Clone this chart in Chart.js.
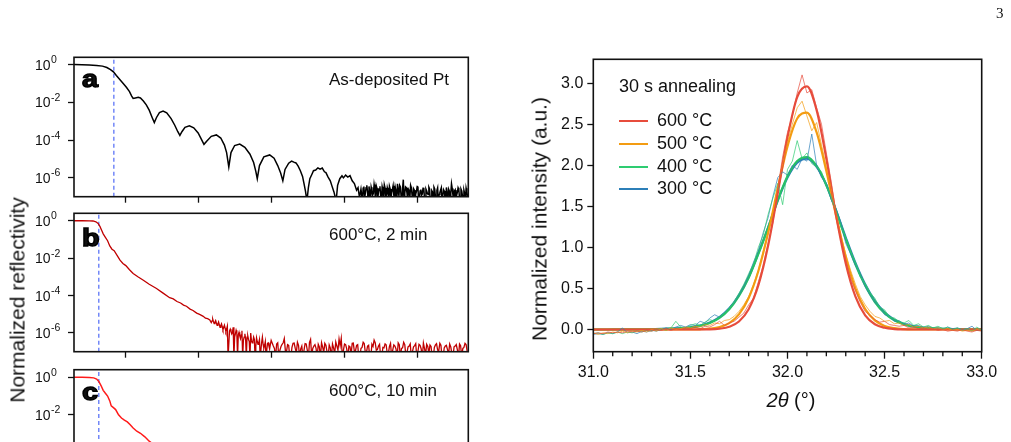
<!DOCTYPE html>
<html><head><meta charset="utf-8">
<script src="https://cdn.jsdelivr.net/npm/chart.js@4.4.1/dist/chart.umd.min.js"></script>
<style>
html,body{margin:0;padding:0;background:#fff;}
#wrap{position:relative;width:1011px;height:442px;overflow:hidden;background:#fff;font-family:"Liberation Sans",Arial,sans-serif;color:#111;}
canvas{position:absolute;left:0;top:0;}
.t{position:absolute;white-space:nowrap;line-height:1;}
.lab{position:absolute;font-family:"Liberation Sans",Arial,sans-serif;font-weight:900;font-size:23px;line-height:1;-webkit-text-stroke:1.3px #000;transform:scaleX(1.25);transform-origin:left top;}
.sw{position:absolute;width:29px;height:2px;}
</style></head><body>
<div id="wrap">
<canvas id="ca" width="1011" height="442" style="width:1011px;height:442px"></canvas>
<canvas id="cb" width="1011" height="442" style="width:1011px;height:442px"></canvas>
<canvas id="cc" width="1011" height="560" style="width:1011px;height:560px"></canvas>
<canvas id="cx" width="1011" height="442" style="width:1011px;height:442px"></canvas>

<div class="t" style="left:996px;top:6px;font-family:'Liberation Serif',serif;font-size:15px;">3</div>
<div class="t" style="left:17px;top:300px;font-size:21px;transform:translate(-50%,-50%) rotate(-90deg);">Normalized reflectivity</div>
<div class="t" style="left:538.5px;top:219px;font-size:21px;transform:translate(-50%,-50%) rotate(-90deg);">Normalized intensity (a.u.)</div>

<div class="lab" style="left:82px;top:68px;">a</div>
<div class="lab" style="left:82px;top:227px;">b</div>
<div class="lab" style="left:82px;top:381px;">c</div>

<div class="t" style="left:329px;top:71px;font-size:17px;">As-deposited Pt</div>
<div class="t" style="left:329px;top:226px;font-size:17px;">600°C, 2 min</div>
<div class="t" style="left:329px;top:382px;font-size:17px;">600°C, 10 min</div>

<div class="t" style="left:619px;top:76.5px;font-size:18px;">30 s annealing</div>
<div class="sw" style="left:619px;top:120px;background:#e74c3c"></div>
<div class="sw" style="left:619px;top:142.5px;background:#f39c12"></div>
<div class="sw" style="left:619px;top:165.5px;background:#2ecc71"></div>
<div class="sw" style="left:619px;top:188px;background:#2c7fb8"></div>
<div class="t" style="left:657px;top:111px;font-size:18px;">600 °C</div>
<div class="t" style="left:657px;top:133.5px;font-size:18px;">500 °C</div>
<div class="t" style="left:657px;top:156.5px;font-size:18px;">400 °C</div>
<div class="t" style="left:657px;top:179px;font-size:18px;">300 °C</div>

<div class="t" style="left:791px;top:390px;font-size:20px;transform:translateX(-50%);"><i>2θ</i> (°)</div>
</div>
<script>
// ---------- XRR (left panels) ----------
const xrrXTicks = [1, 2, 3, 4, 5];
const xrrYExps = [0, -2, -4, -6];
const xrrRange = [1e-7, 2.5];

const xA = [0.29,0.40,0.50,0.60,0.68,0.74,0.79,0.83,0.87,0.92,0.97,1.01,1.05,1.08,1.10,1.13,1.17,1.20,1.24,1.28,1.32,1.36,1.39,1.42,1.46,1.51,1.56,1.62,1.67,1.71,1.74,1.77,1.81,1.87,1.93,1.99,2.03,2.07,2.11,2.17,2.24,2.30,2.35,2.38,2.41,2.44,2.49,2.56,2.63,2.70,2.75,2.78,2.80,2.83,2.89,2.97,3.03,3.08,3.12,3.15,3.18,3.23,3.27,3.30,3.33,3.36,3.39,3.42,3.44,3.46,3.48,3.50,3.52,3.55,3.57,3.60,3.63,3.66,3.69,3.72,3.74,3.77,3.80,3.82,3.85,3.88,3.90,3.93,3.96,3.98,4.01,4.04,4.07,4.10,4.13,4.16,4.18,4.20,
4.22,4.24,4.26,4.28,4.30,4.32,4.34,4.36,4.38,4.40,4.42,4.44,4.46,4.48,4.50,4.52,4.54,4.56,4.58,4.60,4.62,4.64,4.66,4.68,4.70,4.72,4.74,4.76,4.78,4.80,4.82,4.84,4.86,4.88,4.90,4.92,4.94,4.96,4.98,5.00,5.02,5.04,5.06,5.08,5.10,5.12,5.14,5.16,5.18,5.20,5.22,5.24,5.26,5.28,5.30,5.32,5.34,5.36,5.38,5.40,5.42,5.44,5.46,5.48,5.50,5.52,5.54,5.56,5.58,5.60,5.62,5.64,5.66,5.68];
const yA = [1.05,1.02,0.98,0.93,0.85,0.72,0.56,0.42,0.27,0.16,0.095,0.062,0.038,0.022,0.0165,0.0175,0.0188,0.0175,0.012,0.0075,0.0039,0.0016,0.00085,0.0016,0.0029,0.0035,0.0028,0.0014,0.00062,0.00029,0.00018,0.00029,0.00048,0.00058,0.00045,0.00024,0.00012,0.00006,0.00009,0.00016,0.00019,0.00013,5.5e-5,2.2e-5,3.8e-6,2.2e-5,5.2e-5,6.2e-5,4.2e-5,1.8e-5,6.5e-6,2.2e-6,9e-7,4.5e-6,1.3e-5,1.65e-5,1.1e-5,4.5e-6,1.8e-6,7e-7,2.8e-6,6.0e-6,7.8e-6,6.8e-6,6.2e-6,4.2e-6,2.4e-6,1.2e-6,5e-7,2e-7,6e-8,3e-7,9e-7,1.6e-6,2.4e-6,2.6e-6,3.4e-6,2.9e-6,3.3e-6,2.1e-6,1.9e-6,1.1e-6,7e-7,4e-7,1.8e-7,6e-8,4e-7,9e-7,1.3e-6,1.0e-6,1.4e-6,1.1e-6,1.3e-6,7e-7,5e-7,2.2e-7,3e-7,9e-8,
2.5e-7,6e-8,3.5e-7,1.5e-7,4.0e-7,5e-8,2.0e-7,3.2e-7,1.2e-7,4.5e-7,5e-8,2.8e-7,1.8e-7,3.6e-7,7e-8,2.2e-7,4.2e-7,1.0e-7,3.0e-7,5e-8,2.6e-7,1.6e-7,3.8e-7,6e-8,2.0e-7,4.8e-7,1.1e-7,3.3e-7,5e-8,8.0e-7,1.5e-7,3.0e-7,6e-8,2.1e-7,4.0e-7,1.2e-7,2.7e-7,5e-8,1.9e-7,3.4e-7,9e-8,2.4e-7,1.4e-7,3.0e-7,5e-8,2.0e-7,1.3e-7,2.6e-7,6e-8,1.8e-7,3.2e-7,1.0e-7,2.2e-7,5e-8,1.6e-7,2.9e-7,1.1e-7,2.0e-7,5e-8,1.5e-7,2.5e-7,8e-8,4.8e-7,1.2e-7,2.0e-7,5e-8,1.7e-7,2.4e-7,9e-8,2.0e-7,5e-8,1.5e-7,2.8e-7,1.0e-7];
// extra tail readings of panel a (between the points above)
const xA2 = [4.23,4.25,4.27,4.29,4.31,4.33,4.35,4.37,4.39,4.41,4.43,4.45,4.47,4.49,4.51,4.53,4.55,4.57,4.59,4.61,4.63,4.65,4.67,4.69,4.71,4.73,4.75,4.77,4.79,4.81,4.83,4.85,4.87,4.89,4.91,4.93,4.95,4.97,4.99,5.01,5.03,5.05,5.07,5.09,5.11,5.13,5.15,5.17,5.19,5.21,5.23,5.25,5.27,5.29,5.31,5.33,5.35,5.37,5.39,5.41,5.43,5.45,5.47,5.49,5.51,5.53,5.55,5.57,5.59,5.61,5.63,5.65,5.67];
const yA2 = [1.2e-7,2.8e-7,9e-8,3.0e-7,1.8e-7,3.5e-7,5e-8,2.2e-7,1.5e-7,2.5e-7,3.8e-7,8e-8,2.6e-7,1.1e-7,3.4e-7,5e-8,2.9e-7,1.3e-7,2.0e-7,3.6e-7,7e-8,2.4e-7,1.2e-7,3.1e-7,5e-8,2.2e-7,4.0e-7,1.0e-7,2.7e-7,5e-8,3.3e-7,1.6e-7,2.5e-7,9e-8,3.0e-7,6e-8,2.3e-7,1.4e-7,3.5e-7,5e-8,2.0e-7,1.2e-7,2.8e-7,8e-8,2.5e-7,1.5e-7,3.2e-7,5e-8,2.1e-7,1.1e-7,2.6e-7,7e-8,3.0e-7,1.3e-7,2.2e-7,5e-8,2.4e-7,1.0e-7,3.1e-7,6e-8,2.0e-7,1.5e-7,2.7e-7,5e-8,2.3e-7,1.2e-7,3.0e-7,8e-8,2.5e-7,1.1e-7,2.2e-7,5e-8,1.8e-7];

const xB = [0.29,0.40,0.50,0.55,0.59,0.62,0.645,0.67,0.69,0.72,0.75,0.78,0.81,0.84,0.88,0.92,0.96,1.00,1.05,1.10,1.17,1.24,1.32,1.42,1.51,1.60,1.65,1.70,1.75,1.79,1.83,1.88,1.92,1.97,2.01,2.06,2.09,2.12,
2.15,2.17,2.19,2.21,2.23,2.25,2.27,2.29,2.31,2.33,2.35,2.37,2.39,2.41,2.43,2.45,2.47,2.49,2.51,2.53,2.55,2.57,2.59,2.61,2.63,2.65,2.67,2.69,2.71,2.73,2.75,2.77,2.79,2.81,2.83,2.85,2.87,2.89,2.91,2.93,2.95,2.97,2.99,
3.02,3.05,3.08,3.11,3.14,3.17,3.20,3.23,3.26,3.29,3.32,3.35,3.38,3.41,3.44,3.47,3.50,3.53,3.56,3.59,3.62,3.65,3.68,3.71,3.74,3.77,3.80,3.83,3.86,3.89,3.92,3.95,3.98,4.01,4.04,4.07,4.10,4.13,4.16,4.19,4.22,4.25,4.28,4.31,4.34,4.37,4.40,4.43,4.46,4.49,4.52,4.55,4.58,4.61,4.64,4.67,4.70,4.73,4.76,4.79,4.82,4.85,4.88,4.91,4.94,4.97,5.00,5.03,5.06,5.09,5.12,5.15,5.18,5.21,5.24,5.27,5.30,5.33,5.36,5.39,5.42,5.45,5.48,5.51,5.54,5.57,5.60,5.63,5.66,5.69];
const yB = [1.0,1.0,0.99,0.97,0.88,0.72,0.50,0.30,0.20,0.13,0.085,0.045,0.030,0.025,0.014,0.0078,0.0052,0.0040,0.0024,0.0015,0.00098,0.00066,0.00040,0.00024,0.000135,7.7e-5,6.6e-5,4.8e-5,4.0e-5,3.1e-5,2.7e-5,1.9e-5,1.6e-5,1.15e-5,9.8e-6,7.8e-6,6.2e-6,5.8e-6,
5.0e-6,3.6e-6,5.5e-6,3.2e-6,4.6e-6,2.6e-6,3.9e-6,2.0e-6,3.1e-6,1.5e-6,2.6e-6,1.2e-6,2.3e-6,5e-8,1.6e-6,9e-7,2.0e-6,6e-7,1.4e-6,5e-8,1.1e-6,5e-7,1.3e-6,4e-7,9e-7,5e-8,7e-7,3.5e-7,1.0e-6,3e-7,6e-7,5e-8,5.5e-7,2.5e-7,4.5e-7,5e-8,6e-7,1.5e-7,3.5e-7,5e-8,3e-7,1.5e-7,4e-7,
2.0e-7,5e-8,3.0e-7,1.2e-7,2.5e-7,5.0e-7,1.0e-7,2.2e-7,5e-8,2.8e-7,1.5e-7,3.2e-7,5e-8,2.0e-7,1.2e-7,2.6e-7,5e-8,4.5e-7,1.5e-7,2.4e-7,5e-8,1.8e-7,3.0e-7,9e-8,2.2e-7,5e-8,1.6e-7,2.6e-7,8e-8,2.0e-7,4.8e-7,5.2e-7,1.2e-7,2.4e-7,5e-8,1.8e-7,2.8e-7,1.0e-7,2.2e-7,5e-8,1.5e-7,3.2e-7,9e-8,2.0e-7,5e-8,2.5e-7,4.2e-7,1.2e-7,2.0e-7,5e-8,1.7e-7,2.6e-7,8e-8,1.9e-7,5e-8,2.3e-7,1.4e-7,3.0e-7,5e-8,1.6e-7,2.4e-7,9e-8,2.0e-7,5e-8,1.8e-7,2.7e-7,1.0e-7,2.2e-7,5e-8,1.5e-7,2.5e-7,8e-8,1.9e-7,5e-8,2.3e-7,1.2e-7,2.8e-7,5e-8,1.6e-7,2.2e-7,8e-8,1.8e-7,5e-8,2.0e-7,1.3e-7,2.6e-7,5e-8,1.7e-7,2.4e-7,1.0e-7];
// extra noisy readings of panel b (between the points above)
const xB2 = [2.16,2.18,2.20,2.22,2.24,2.26,2.28,2.30,2.32,2.34,2.36,2.38,2.40,2.42,2.44,2.46,2.48,2.50,2.52,2.54,2.56,2.58,2.60,2.62,2.64,2.66,2.68,2.70,2.72,2.74,2.76,2.78,2.80,2.82,2.84,2.86,2.88,2.90,2.92,2.94,2.96,2.98,
3.035,3.065,3.095,3.125,3.155,3.185,3.215,3.245,3.275,3.305,3.335,3.365,3.395,3.425,3.455,3.485,3.515,3.545,3.575,3.605,3.635,3.665,3.695,3.725,3.755,3.785,3.815,3.845,3.875,3.905,3.935,3.965,3.995,4.025,4.055,4.085,4.115,4.145,4.175,4.205,4.235,4.265,4.295,4.325,4.355,4.385,4.415,4.445,4.475,4.505,4.535,4.565,4.595,4.625,4.655,4.685,4.715,4.745,4.775,4.805,4.835,4.865,4.895,4.925,4.955,4.985,5.015,5.045,5.075,5.105,5.135,5.165,5.195,5.225,5.255,5.285,5.315,5.345,5.375,5.405,5.435,5.465,5.495,5.525,5.555,5.585,5.615,5.645,5.675];
const yB2 = [4.2e-6,4.4e-6,4.0e-6,3.8e-6,3.4e-6,3.0e-6,2.8e-6,2.5e-6,2.2e-6,1.9e-6,1.8e-6,1.6e-6,5e-8,1.3e-6,1.2e-6,1.1e-6,5e-8,9e-7,1.0e-6,8e-7,7e-7,8e-7,5e-8,6e-7,5e-7,6e-7,4.5e-7,5e-8,4e-7,3.5e-7,4.5e-7,2e-7,3.5e-7,3e-7,5e-8,3.2e-7,2.5e-7,2.2e-7,5e-8,2.8e-7,2.0e-7,2.5e-7,
1.5e-7,2.6e-7,5e-8,1.9e-7,3.0e-7,1.1e-7,2.4e-7,5e-8,1.7e-7,2.9e-7,9e-8,2.2e-7,1.4e-7,5e-8,2.7e-7,1.2e-7,3.1e-7,6e-8,2.0e-7,1.5e-7,2.5e-7,5e-8,1.8e-7,2.8e-7,1.0e-7,2.3e-7,5e-8,1.6e-7,3.3e-7,1.2e-7,2.1e-7,5e-8,2.6e-7,1.4e-7,2.0e-7,7e-8,2.9e-7,1.1e-7,2.4e-7,5e-8,1.7e-7,2.7e-7,9e-8,2.2e-7,5e-8,1.9e-7,3.0e-7,1.3e-7,2.5e-7,5e-8,1.6e-7,2.3e-7,8e-8,2.8e-7,1.2e-7,2.0e-7,5e-8,2.4e-7,1.5e-7,3.2e-7,6e-8,1.8e-7,2.6e-7,1.0e-7,2.1e-7,5e-8,2.5e-7,1.4e-7,2.9e-7,7e-8,1.9e-7,2.3e-7,5e-8,1.7e-7,2.7e-7,1.1e-7,2.2e-7,5e-8,2.0e-7,1.3e-7,2.6e-7,8e-8,1.8e-7,2.4e-7,5e-8,2.1e-7,1.5e-7,2.8e-7,1.0e-7];

const xC = [0.29,0.40,0.50,0.56,0.60,0.63,0.66,0.69,0.72,0.75,0.78,0.80,0.83,0.86,0.90,0.94,0.98,1.02,1.06,1.10,1.15,1.20,1.26,1.32,1.38,1.45,1.55,1.70,1.90,2.10,2.40];
const yC = [1.0,1.0,0.97,0.92,0.80,0.60,0.36,0.20,0.14,0.10,0.055,0.030,0.024,0.019,0.010,0.0068,0.0052,0.0042,0.0030,0.0020,0.00135,0.00105,0.00068,0.00040,0.00026,0.00017,8.5e-5,4.0e-5,1.7e-5,7.5e-6,3.0e-6];

const critA = 0.836, critB = 0.63, critC = 0.63;

// ---------- XRD (right panel) ----------
const tth = [31.000,31.025,31.050,31.075,31.100,31.125,31.150,31.175,31.200,31.225,31.250,31.275,31.300,31.325,31.350,31.375,31.400,31.425,31.450,31.475,31.500,31.525,31.550,31.575,31.600,31.625,31.650,31.675,31.700,31.725,31.750,31.775,31.800,31.825,31.850,31.875,31.900,31.925,31.950,31.975,32.000,32.025,32.050,32.075,32.100,32.125,32.150,32.175,32.200,32.225,32.250,32.275,32.300,32.325,32.350,32.375,32.400,32.425,32.450,32.475,32.500,32.525,32.550,32.575,32.600,32.625,32.650,32.675,32.700,32.725,32.750,32.775,32.800,32.825,32.850,32.875,32.900,32.925,32.950,32.975,33.000];
const raw600 = [-0.05,-0.04,-0.05,-0.03,-0.04,-0.03,-0.04,-0.02,-0.03,-0.02,-0.03,-0.01,-0.02,0.00,-0.01,0.01,-0.01,0.01,0.00,0.02,0.01,0.03,0.01,0.04,0.03,0.06,0.10,0.05,0.08,0.10,0.15,0.20,0.30,0.38,0.58,0.78,1.05,1.30,1.72,2.10,2.40,2.60,2.88,3.10,2.88,2.92,2.70,2.50,2.15,1.80,1.42,1.12,0.85,0.62,0.47,0.33,0.22,0.17,0.12,0.09,0.10,0.06,0.05,0.04,0.05,0.02,0.03,0.01,0.02,0.00,0.01,-0.01,0.00,-0.02,-0.01,-0.02,0.00,-0.02,-0.03,-0.01,-0.02];
const raw500 = [-0.04,-0.06,-0.04,-0.05,-0.03,-0.04,-0.02,-0.04,-0.02,-0.03,-0.01,-0.03,0.00,-0.02,0.01,-0.01,0.02,0.00,0.01,0.03,0.02,0.04,0.03,0.06,0.05,0.08,0.07,0.11,0.12,0.16,0.22,0.30,0.40,0.55,0.72,0.95,1.18,1.42,1.75,2.02,2.28,2.50,2.70,2.78,2.60,2.42,2.52,2.25,1.98,1.72,1.42,1.15,0.92,0.72,0.55,0.40,0.30,0.22,0.16,0.14,0.10,0.11,0.07,0.08,0.05,0.06,0.03,0.04,0.02,0.03,0.01,0.02,0.00,0.01,-0.01,0.00,-0.02,-0.01,-0.02,0.00,-0.01];
const raw400 = [-0.05,-0.04,-0.06,-0.04,-0.05,-0.03,-0.05,-0.03,-0.04,-0.02,-0.03,-0.01,-0.02,0.00,0.01,-0.01,0.02,0.10,0.03,0.02,0.05,0.07,0.05,0.09,0.12,0.10,0.16,0.20,0.26,0.34,0.44,0.55,0.68,0.80,1.00,1.15,1.40,1.60,1.78,1.52,1.95,2.05,2.30,2.08,2.15,2.02,1.98,1.92,1.75,1.62,1.45,1.25,1.12,0.95,0.82,0.64,0.56,0.45,0.38,0.27,0.24,0.15,0.14,0.10,0.08,0.11,0.05,0.07,0.03,0.05,0.02,0.04,0.01,0.03,0.00,0.02,-0.01,0.01,-0.02,0.03,-0.01];
const raw300 = [-0.06,-0.05,-0.06,-0.04,-0.05,-0.03,0.02,-0.04,-0.03,-0.05,-0.02,-0.03,-0.01,-0.02,0.00,0.02,0.00,0.03,0.05,0.03,0.06,0.05,0.10,0.08,0.14,0.18,0.15,0.21,0.27,0.33,0.42,0.52,0.66,0.82,0.96,1.18,1.36,1.62,1.85,1.92,1.88,2.00,1.95,2.08,2.05,2.38,2.00,1.85,1.78,1.58,1.47,1.30,1.05,0.92,0.78,0.66,0.52,0.42,0.33,0.28,0.18,0.16,0.10,0.11,0.06,0.08,0.04,0.05,0.02,0.04,0.01,0.02,0.00,0.03,0.01,0.02,0.00,0.01,0.04,-0.01,0.00];

const tthFit = [31.00,31.05,31.10,31.15,31.20,31.25,31.30,31.35,31.40,31.45,31.50,31.55,31.60,31.65,31.70,31.75,31.80,31.85,31.90,31.95,32.00,32.05,32.10,32.15,32.20,32.25,32.30,32.35,32.40,32.45,32.50,32.55,32.60,32.65,32.70,32.75,32.80,32.85,32.90,32.95,33.00];
const fit600 = [0,0,0,0,0,0,0,0,0,0,0,0.001,0.002,0.010,0.033,0.097,0.247,0.54,1.02,1.66,2.34,2.83,2.96,2.67,2.08,1.39,0.805,0.40,0.173,0.064,0.021,0.006,0.001,0,0,0,0,0,0,0,0];
const fit500 = [0,0,0,0,0,0,0,0,0,0,0.001,0.003,0.010,0.029,0.078,0.184,0.384,0.713,1.174,1.719,2.23,2.57,2.64,2.40,1.93,1.386,0.883,0.499,0.250,0.112,0.044,0.016,0.005,0.001,0,0,0,0,0,0,0];
const fit400 = [0,0,0.001,0.001,0.002,0.003,0.004,0.006,0.010,0.015,0.025,0.044,0.079,0.142,0.247,0.41,0.63,0.92,1.239,1.577,1.865,2.052,2.10,1.992,1.76,1.445,1.10,0.79,0.535,0.335,0.20,0.113,0.063,0.035,0.021,0.014,0.008,0.006,0.004,0.003,0.002];
const fit300 = [0,0,0.001,0.001,0.002,0.003,0.005,0.007,0.011,0.017,0.028,0.048,0.085,0.150,0.255,0.42,0.64,0.93,1.24,1.57,1.85,2.03,2.08,1.98,1.76,1.45,1.12,0.81,0.55,0.35,0.21,0.12,0.068,0.038,0.023,0.015,0.009,0.006,0.004,0.003,0.002];

const xrdXTicks = [31.0, 31.5, 32.0, 32.5, 33.0];
const xrdXMinor = [31.1,31.2,31.3,31.4,31.6,31.7,31.8,31.9,32.1,32.2,32.3,32.4,32.6,32.7,32.8,32.9];
const xrdYTicks = [0.0, 0.5, 1.0, 1.5, 2.0, 2.5, 3.0];

const colors = {c600:'#e74c3c', c500:'#f39c12', c400:'#2ecc71', c300:'#2c7fb8'};

// ---------- plugins ----------
const frame = {
  id:'frame',
  afterDatasetsDraw(chart){
    const {ctx, chartArea:a} = chart;
    ctx.save(); ctx.strokeStyle='#111'; ctx.lineWidth=1.6;
    ctx.strokeRect(a.left, a.top, a.right-a.left, a.bottom-a.top);
    ctx.restore();
  }
};
const logLabels = {
  id:'logLabels',
  afterDraw(chart){
    const y = chart.scales.y, ctx = chart.ctx;
    ctx.save(); ctx.fillStyle='#111'; ctx.textAlign='left'; ctx.textBaseline='alphabetic';
    for (const e of xrrYExps){
      const py = y.getPixelForValue(Math.pow(10,e));
      ctx.font='14px "Liberation Sans", Arial, sans-serif';
      ctx.fillText('10', 35, py+5);
      const w = ctx.measureText('10').width;
      ctx.font='10.5px "Liberation Sans", Arial, sans-serif';
      ctx.fillText(e===0 ? '0' : '-'+(-e), 35+w+0.5, py-1.5);
    }
    ctx.restore();
  }
};
const minorTicks = {
  id:'minorTicks',
  afterDraw(chart){
    const x = chart.scales.x, ctx = chart.ctx, b = chart.chartArea.bottom;
    ctx.save(); ctx.strokeStyle='#111'; ctx.lineWidth=1.3; ctx.beginPath();
    for (const v of xrdXMinor){ const px = x.getPixelForValue(v); ctx.moveTo(px,b); ctx.lineTo(px,b+4.5); }
    ctx.stroke(); ctx.restore();
  }
};

const gridOpts = {drawOnChartArea:false, drawTicks:true, tickLength:6, tickColor:'#111', tickWidth:1.3};

function pts(xs, ys){ return xs.map((x,i)=>({x, y:ys[i]})); }
function merged(xs, ys, xs2, ys2){ return pts(xs,ys).concat(pts(xs2,ys2)).sort((p,q)=>p.x-q.x); }

function xrrChart(id, data, color, lw, crit, padTop, padBottom){
  return new Chart(document.getElementById(id), {
    type:'line',
    data:{datasets:[
      {data: data, borderColor:color, borderWidth:lw, pointRadius:0, tension:0, fill:false},
      {data:[{x:crit,y:xrrRange[0]},{x:crit,y:xrrRange[1]}], borderColor:'#3f5cf5', borderWidth:1.1, borderDash:[4,3], pointRadius:0, fill:false}
    ]},
    options:{
      responsive:false, animation:false, devicePixelRatio:1,
      layout:{padding:{left:10, top:padTop, right:1011-468.3, bottom:padBottom}},
      plugins:{legend:{display:false}, tooltip:{enabled:false}},
      scales:{
        x:{type:'linear', min:0.29, max:5.69,
           afterBuildTicks(s){ s.ticks = xrrXTicks.map(v=>({value:v})); },
           afterFit(s){ s.height = 8; },
           ticks:{display:false}, grid:gridOpts, border:{display:false}},
        y:{type:'logarithmic', min:xrrRange[0], max:xrrRange[1],
           afterBuildTicks(s){ s.ticks = xrrYExps.map(e=>({value:Math.pow(10,e)})); },
           afterFit(s){ s.width = 64; },
           ticks:{display:false}, grid:gridOpts, border:{display:false}}
      }
    },
    plugins:[frame, logLabels]
  });
}

xrrChart('ca', merged(xA, yA, xA2, yA2), '#000000', 1.5, critA, 57.3, 442-196.7-8);
xrrChart('cb', merged(xB, yB, xB2, yB2), '#c00000', 1.3, critB, 213.3, 442-351.7-8);
xrrChart('cc', pts(xC, yC), '#ff1a1a', 1.5, critC, 369.7, 560-509-8);

function rawSet(vals, col){
  return {data: pts(tth, vals), borderColor:col+'b3', borderWidth:1, pointRadius:0, tension:0, fill:false};
}
function fitSet(vals, col){
  return {data: pts(tthFit, vals), borderColor:col, borderWidth:2.2, pointRadius:0, cubicInterpolationMode:'monotone', fill:false};
}
const tickFont = {family:'"Liberation Sans", Arial, sans-serif', size:16};
// Chart.js paints the first dataset last (on top): thin measured data over the fits
new Chart(document.getElementById('cx'), {
  type:'line',
  data:{datasets:[
    rawSet(raw600, colors.c600), rawSet(raw500, colors.c500), rawSet(raw400, colors.c400), rawSet(raw300, colors.c300),
    fitSet(fit600, colors.c600), fitSet(fit500, colors.c500), fitSet(fit400, '#27c065'), fitSet(fit300, colors.c300)
  ]},
  options:{
    responsive:false, animation:false, devicePixelRatio:1,
    layout:{padding:{left:525.5, top:59.3, right:1011-981.7, bottom:442-351.7-40}},
    plugins:{legend:{display:false}, tooltip:{enabled:false}},
    scales:{
      x:{type:'linear', min:31, max:33,
         afterBuildTicks(s){ s.ticks = xrdXTicks.map(v=>({value:v})); },
         afterFit(s){ s.height = 40; },
         ticks:{font:tickFont, color:'#111', padding:4, maxRotation:0, autoSkip:false, callback:v=>Number(v).toFixed(1)},
         grid:{drawOnChartArea:false, drawTicks:true, tickLength:7, tickColor:'#111', tickWidth:1.3}, border:{display:false}},
      y:{type:'linear', min:-0.27, max:3.29,
         afterBuildTicks(s){ s.ticks = xrdYTicks.map(v=>({value:v})); },
         afterFit(s){ s.width = 593.3-525.5; },
         ticks:{font:tickFont, color:'#111', padding:4, autoSkip:false, callback:v=>Number(v).toFixed(1)},
         grid:{drawOnChartArea:false, drawTicks:true, tickLength:6, tickColor:'#111', tickWidth:1.3}, border:{display:false}}
    }
  },
  plugins:[frame, minorTicks]
});
</script>
</body></html>
